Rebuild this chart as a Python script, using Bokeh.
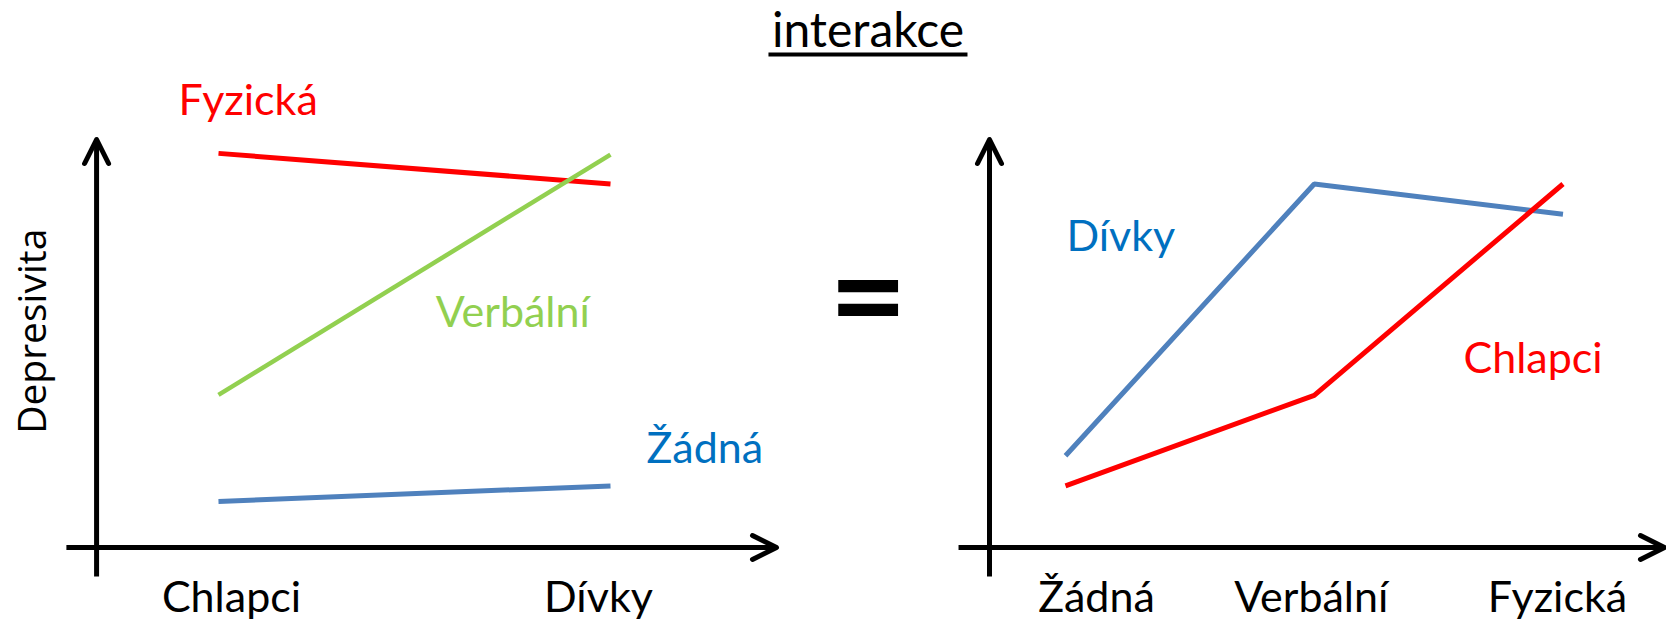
from bokeh.plotting import figure
from bokeh.models import Range1d, Arrow, OpenHead
from bokeh.core.properties import value
from bokeh.embed import file_html
from bokeh.resources import INLINE

# ---------------- data ----------------
title_text = "interakce"
y_label = "Depresivita"

left_categories = ["Chlapci", "Dívky"]
left_series_names = ["Fyzická", "Verbální", "Žádná"]
left_fyzicka = [9.66, 8.91]
left_verbalni = [3.74, 9.63]
left_zadna = [1.13, 1.51]

right_categories = ["Žádná", "Verbální", "Fyzická"]
right_series_names = ["Dívky", "Chlapci"]
right_divky = [2.25, 8.91, 8.17]
right_chlapci = [1.51, 3.73, 8.91]

# ---------------- styles ----------------
RED = "#FF0000"
GREEN = "#92D050"
BLUE_LINE = "#4F81BD"
BLUE_TEXT = "#0070C0"
FONT = "Lato"
LABEL_PX = 43
LABEL_SIZE = f"{LABEL_PX}px"
TITLE_PX = 48
BASE_SHIFT = 0.42  # baseline correction (fraction of font size)

W, H = 1666, 623

p = figure(width=W, height=H, output_backend="svg", toolbar_location=None,
           x_axis_location=None, y_axis_location=None,
           x_range=Range1d(-0.5561, 3.6939), y_range=Range1d(-1.8627, 13.4069))
p.extra_x_ranges = {"right": Range1d(-4.2814, 2.4161)}
p.grid.visible = False
p.outline_line_color = None
p.background_fill_color = "white"
p.border_fill_color = "white"
p.min_border_left = p.min_border_right = 0
p.min_border_top = p.min_border_bottom = 0


def axes_arrows(x0, x1, xy, y0, y1, yx, xr="default"):
    head = dict(size=24, line_width=5, line_color="black",
                line_cap="round", line_join="round")
    p.add_layout(Arrow(end=OpenHead(**head), x_start=x0, x_end=x1,
                       y_start=xy, y_end=xy, line_width=5, line_color="black",
                       x_range_name=xr))
    p.add_layout(Arrow(end=OpenHead(**head), x_start=yx, x_end=yx,
                       y_start=y0, y_end=y1, line_width=5, line_color="black",
                       x_range_name=xr))


lab_off = -BASE_SHIFT * LABEL_PX

# ---------------- title ----------------
p.text(x=[1.6569], y=[12.218], text=[title_text], text_font=value(FONT),
       text_font_size=f"{TITLE_PX}px", text_align="center", text_baseline="alphabetic",
       y_offset=-BASE_SHIFT * TITLE_PX, text_color="black")
p.segment(x0=[1.403], y0=[12.084], x1=[1.9107], y1=[12.084],
          line_width=4, line_color="black")

# ---------------- left panel ----------------
lx = list(range(len(left_categories)))
axes_arrows(-0.388, 1.4235, 0.0, -0.71, 10.0, -0.311)
p.line(lx, left_fyzicka, line_color=RED, line_width=5)
p.line(lx, left_verbalni, line_color=GREEN, line_width=4.5)
p.line(lx, left_zadna, line_color=BLUE_LINE, line_width=5)

p.text(x=lx, y=[-1.618] * len(lx), text=left_categories, x_offset=[13, -12],
       y_offset=lab_off,
       text_font=value(FONT), text_font_size=LABEL_SIZE, text_align="center",
       text_baseline="alphabetic", text_color="black")
p.text(x=[-0.102, 0.554, 1.092], y=[10.56, 5.37, 2.03], text=left_series_names,
       y_offset=lab_off,
       text_color=[RED, GREEN, BLUE_TEXT], text_font=value(FONT),
       text_font_size=LABEL_SIZE, text_align="left", text_baseline="alphabetic")
p.text(x=[-0.48], y=[5.30], text=[y_label], angle=1.5707963,
       text_font=value("Open Sans"), text_font_size="39px", text_align="center",
       text_baseline="middle", text_color="black")
# equals sign between the panels
p.text(x=[1.657], y=[6.29], text=["="], text_font=value(FONT), text_font_style="bold",
       text_font_size="135px", text_align="center", text_baseline="middle",
       text_color="black")

# ---------------- right panel ----------------
rx = list(range(len(right_categories)))
axes_arrows(-0.430, 2.408, 0.0, -0.71, 10.0, -0.3055, xr="right")
p.line(rx, right_divky, line_color=BLUE_LINE, line_width=5, x_range_name="right")
p.line(rx, right_chlapci, line_color=RED, line_width=5, x_range_name="right")
p.text(x=rx, y=[-1.618] * len(rx), text=right_categories, x_offset=[31, -3, -5.5],
       y_offset=lab_off,
       text_font=value(FONT), text_font_size=LABEL_SIZE, text_align="center",
       text_baseline="alphabetic", text_color="black", x_range_name="right")
p.text(x=[0.004, 1.6], y=[7.23, 4.25], text=right_series_names,
       y_offset=lab_off,
       text_color=[BLUE_TEXT, RED], text_font=value(FONT),
       text_font_size=LABEL_SIZE, text_align="left", text_baseline="alphabetic",
       x_range_name="right")

open("out.html", "w").write(file_html(p, INLINE))
